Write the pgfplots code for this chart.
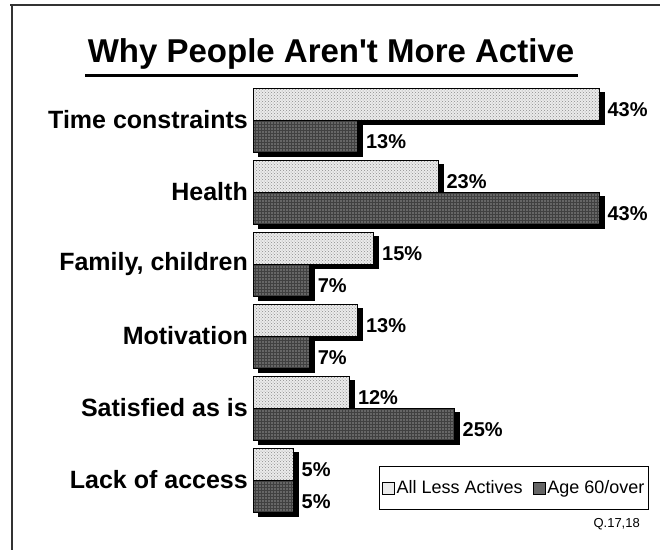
\documentclass[border=0pt]{standalone}
\usepackage{pgfplots}
\pgfplotsset{compat=1.18}
\usepackage{fontspec}
\setmainfont{Liberation Sans}
\usetikzlibrary{patterns,shadows}

\begin{document}
\begin{tikzpicture}[x=1pt,y=1pt]
\useasboundingbox (0,0) rectangle (660,-550);
\fill[white] (0,0) rectangle (660,-550);
\draw[line width=2pt, black!80] (10,-5) -- (660,-5);
\draw[line width=1.8pt, black!80] (12,-5) -- (12,-550);
\node[anchor=base, font=\fontsize{33}{36}\selectfont\bfseries, inner sep=0] at (331,-62) {Why People Aren\textquotesingle t More Active};
\draw[line width=3pt] (85,-75) -- (578,-75);
\node[anchor=base east, font=\fontsize{13}{15}\selectfont, inner sep=0] at (640,-527) {Q.17,18};
\begin{axis}[
  at={(253pt,-516pt)}, anchor=south west,
  scale only axis, width=402.5pt, height=432pt,
  xmin=0, xmax=50, ymin=-0.5, ymax=5.5,
  axis line style={draw=none},
  xtick=\empty,
  ytick={0,1,2,3,4,5},
  yticklabels={Lack of access, Satisfied as is, Motivation, {Family, children}, Health, Time constraints},
  major tick length=0pt,
  yticklabel style={font=\fontsize{25}{28}\selectfont\bfseries, inner sep=0pt, xshift=-5pt},
  clip=false,
  point meta=x,
  legend columns=2,
  legend image code/.code={\draw[#1] (0pt,-6pt) rectangle (12pt,6pt);},
  legend style={at={(axis cs:49.2,0.194)}, anchor=north east, draw=black, line width=1.2pt,
    font=\fontsize{18}{20}\selectfont, inner ysep=12pt, inner xsep=2pt,
    /tikz/every even column/.append style={column sep=8pt}},
]
\addlegendimage{draw=black, line width=0.8pt, fill=black!8}
\addlegendentry{All Less Actives}
\addlegendimage{draw=black, line width=0.8pt, fill=black!60}
\addlegendentry{Age 60/over}
\addplot[forget plot, xbar, bar width=32pt, bar shift=16pt, draw=black, line width=0.8pt, fill=black!8,
  postaction={pattern=crosshatch dots, pattern color=black!45},
  drop shadow={shadow xshift=5pt, shadow yshift=-4pt, fill=black, opacity=1},
  nodes near coords={\pgfmathprintnumber[assume math mode=true]{\pgfplotspointmeta}\%},
  every node near coord/.style={font=\fontsize{20}{22}\selectfont\bfseries, anchor=west, xshift=8pt, yshift=10pt, inner sep=0pt, fill=none, draw=none}]
  coordinates {(43,5) (23,4) (15,3) (13,2) (12,1) (5,0)};
\addplot[forget plot, xbar, bar width=32pt, bar shift=-16pt, draw=black, line width=0.8pt, fill=black!60,
  postaction={pattern=grid, pattern color=black!75},
  drop shadow={shadow xshift=5pt, shadow yshift=-4pt, fill=black, opacity=1},
  nodes near coords={\pgfmathprintnumber[assume math mode=true]{\pgfplotspointmeta}\%},
  every node near coord/.style={font=\fontsize{20}{22}\selectfont\bfseries, anchor=west, xshift=8pt, yshift=-22pt, inner sep=0pt, fill=none, draw=none}]
  coordinates {(13,5) (43,4) (7,3) (7,2) (25,1) (5,0)};
\end{axis}
\end{tikzpicture}
\end{document}
